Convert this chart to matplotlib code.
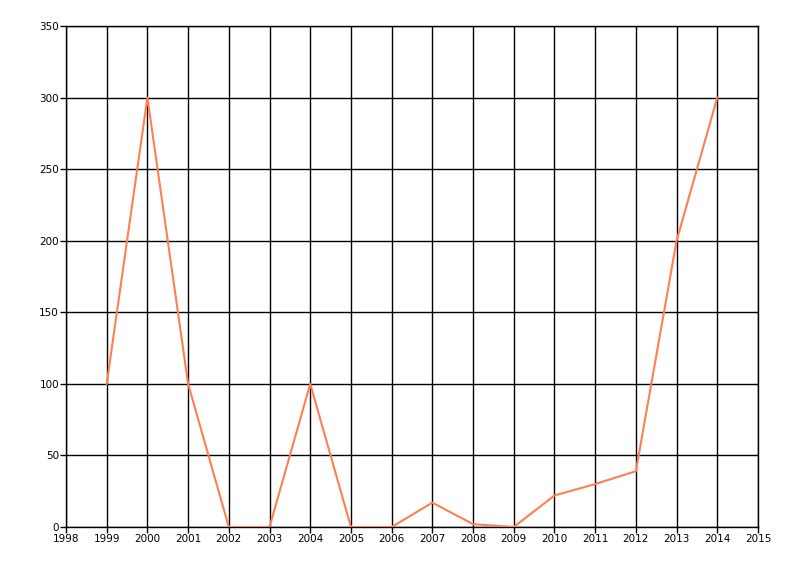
import matplotlib
matplotlib.use("Agg")
import matplotlib.pyplot as plt

years = [1999, 2000, 2001, 2002, 2003, 2004, 2005, 2006, 2007, 2008, 2009, 2010, 2011, 2012, 2013, 2014]
values = [100, 300, 100, 0, 0, 100, 0, 0, 17, 2, 0, 22, 30, 39, 200, 300]
x_ticks = list(range(1998, 2016))
y_ticks = list(range(0, 351, 50))

fig = plt.figure(figsize=(8, 5.76), dpi=100)
ax = fig.add_axes([66 / 800, 49 / 576, 692 / 800, 501 / 576])

ax.plot(years, values, color="#FF7F50", linewidth=1.5, zorder=3)

ax.set_xlim(1998, 2015)
ax.set_ylim(0, 350)
ax.set_xticks(x_ticks)
ax.set_yticks(y_ticks)
ax.tick_params(axis="both", labelsize=7.5, length=4, width=1, color="black", pad=1)
ax.grid(True, color="black", linewidth=1)
ax.set_axisbelow(True)
for s in ax.spines.values():
    s.set_color("black")
    s.set_linewidth(1)

fig.savefig("out.png", dpi=100)
